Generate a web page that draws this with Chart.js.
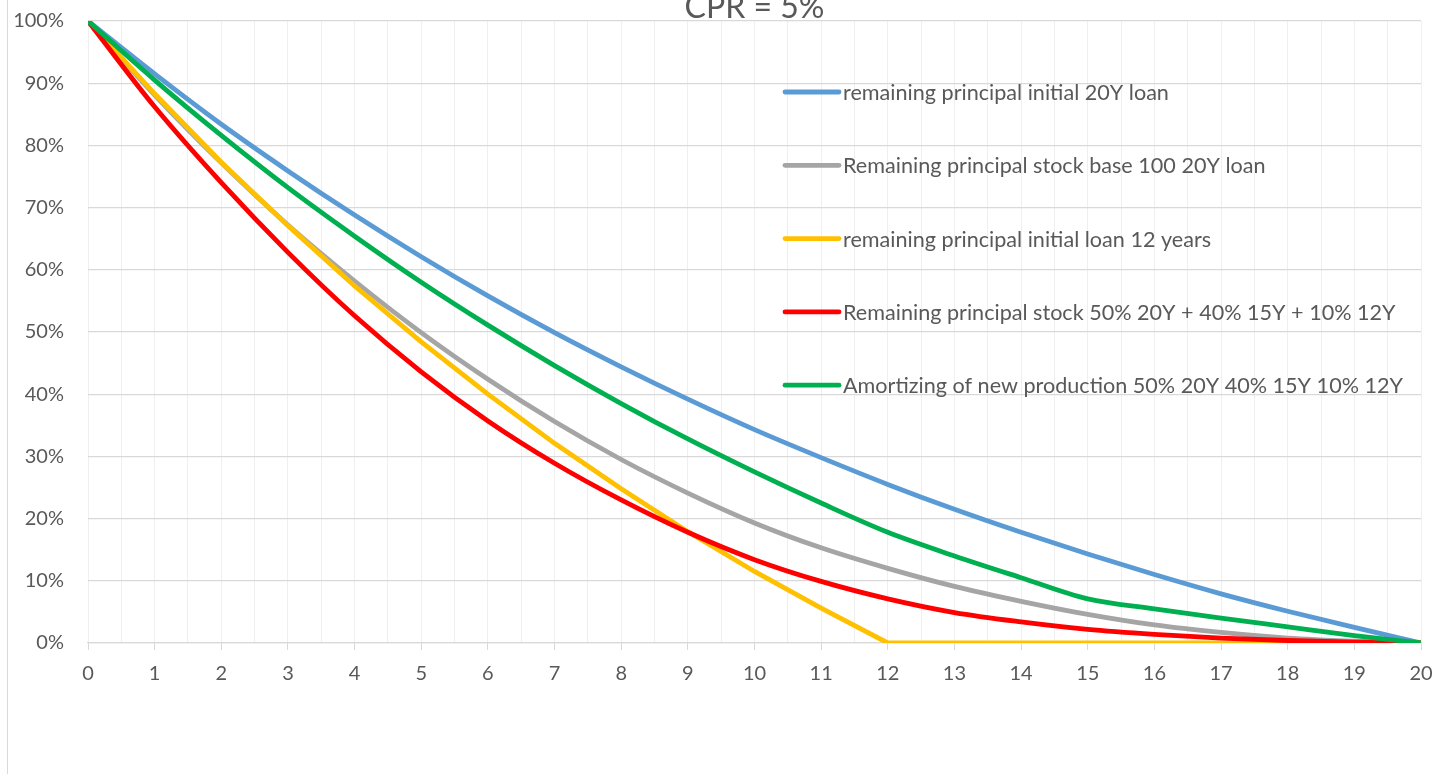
<!DOCTYPE html>
<html>
<head>
<meta charset="utf-8">
<title>CPR = 5%</title>
<script src="https://cdn.jsdelivr.net/npm/chart.js@4.4.0/dist/chart.umd.min.js"></script>
<style>
    html, body { margin: 0; padding: 0; background: #ffffff; }
    #frame {
        position: relative;
        width: 1445px;
        height: 774px;
        overflow: hidden;
    }
    /* chart border, only the left edge is visible in the crop */
    #frame .edge {
        position: absolute;
        left: 7px;
        top: 0;
        bottom: 0;
        border-left: 1.5px solid #d9d9d9;
    }
    #chart {
        position: absolute;
        left: 0;
        top: -15px;
    }
</style>
</head>
<body>
<div id="frame">
    <div class="edge"></div>
    <canvas id="chart" width="1445" height="789"></canvas>
</div>
<script>
// Years since origination
const years = [0, 1, 2, 3, 4, 5, 6, 7, 8, 9, 10, 11, 12, 13, 14, 15, 16, 17, 18, 19, 20];

// Remaining principal (%)
const initial20Y = [100, 91.5, 83.4, 75.9, 68.8, 62.1, 55.8, 49.9, 44.4, 39.2, 34.3, 29.8, 25.5, 21.5, 17.8, 14.3, 11.0, 7.9, 5.1, 2.5, 0];
const stockBase100 = [100, 88.1, 77.2, 67.2, 58.2, 49.9, 42.4, 35.6, 29.5, 24.1, 19.3, 15.3, 12.0, 9.1, 6.7, 4.6, 2.9, 1.7, 0.8, 0.3, 0];
const initial12Y = [100, 88.3, 77.3, 67.1, 57.4, 48.4, 40.0, 32.1, 24.8, 17.9, 11.5, 5.6, 0, 0, 0, 0, 0, 0, 0, 0, 0];
const stockMix = [100, 86.2, 74.0, 62.8, 52.6, 43.6, 35.7, 28.9, 23.0, 17.8, 13.4, 9.9, 7.1, 4.9, 3.4, 2.2, 1.4, 0.8, 0.4, 0.15, 0];
const newProduction = [100, 90.5, 81.6, 73.2, 65.4, 58.0, 51.1, 44.6, 38.5, 32.8, 27.5, 22.5, 17.8, 14.0, 10.5, 7.1, 5.5, 4.0, 2.6, 1.2, 0];

const seriesLabels = [
    'remaining principal initial 20Y loan',
    'Remaining principal stock base 100 20Y loan',
    'remaining principal initial loan 12 years',
    'Remaining principal stock 50% 20Y + 40% 15Y + 10% 12Y',
    'Amortizing of new production 50% 20Y 40% 15Y 10% 12Y'
];
const seriesValues = [initial20Y, stockBase100, initial12Y, stockMix, newProduction];
const seriesColors = ['#5b9bd5', '#a5a5a5', '#ffc000', '#ff0000', '#00b050'];
// the 12 years loan stops dead at year 12, keep its corner sharp
const seriesSmooth = [true, true, false, true, true];

const textColor = '#595959';
const fontFamily = 'Lato, "Open Sans", sans-serif';

/**
 * Legend drawn inside the plot area, on the right.
 */
const innerLegend = {
    id: 'innerLegend',
    afterDatasetsDraw(chart) {
        const ctx = chart.ctx;
        const area = chart.chartArea;
        const x0 = area.left + 697;
        const lineLength = 54;
        ctx.save();
        ctx.font = '21.6px ' + fontFamily;
        ctx.textBaseline = 'middle';
        ctx.textAlign = 'left';
        chart.data.datasets.forEach((dataset, i) => {
            const y = area.top + 71 + i * 73.3;
            ctx.strokeStyle = dataset.borderColor;
            ctx.lineWidth = 4.8;
            ctx.lineCap = 'round';
            ctx.beginPath();
            ctx.moveTo(x0, y);
            ctx.lineTo(x0 + lineLength, y);
            ctx.stroke();
            ctx.fillStyle = textColor;
            ctx.fillText(dataset.label, x0 + lineLength + 4, y + 1);
        });
        ctx.restore();
    }
};

function buildChart() {
    const datasets = seriesValues.map((values, i) => ({
        label: seriesLabels[i],
        data: years.map((year, j) => ({ x: year, y: values[j] })),
        borderColor: seriesColors[i],
        backgroundColor: seriesColors[i],
        borderWidth: 4.8,
        pointRadius: 0,
        cubicInterpolationMode: seriesSmooth[i] ? 'monotone' : 'default',
        tension: 0,
        // later series are drawn on top, as in the original
        order: seriesValues.length - i
    }));

    new Chart(document.getElementById('chart'), {
        type: 'line',
        data: { datasets: datasets },
        options: {
            responsive: false,
            animation: false,
            devicePixelRatio: 1,
            layout: { padding: { top: 0, right: 24, bottom: 0, left: 0 } },
            plugins: {
                legend: { display: false },
                tooltip: { enabled: false },
                title: {
                    display: true,
                    fullSize: false,
                    text: 'CPR = 5%',
                    color: textColor,
                    font: { family: fontFamily, size: 32, weight: 'normal', lineHeight: 1 },
                    padding: { top: 3, bottom: -3 }
                }
            },
            scales: {
                x: {
                    type: 'linear',
                    min: 0,
                    max: 20,
                    afterFit: scale => { scale.height = 131; },
                    ticks: {
                        stepSize: 0.5,
                        autoSkip: false,
                        maxRotation: 0,
                        padding: 12,
                        color: textColor,
                        font: { family: fontFamily, size: 20 },
                        callback: value => Number.isInteger(value) ? String(value) : ''
                    },
                    grid: {
                        color: '#efefef',
                        lineWidth: 1,
                        tickLength: 7,
                        tickColor: ctx => Number.isInteger(ctx.tick.value) ? '#d9d9d9' : 'rgba(0,0,0,0)'
                    },
                    border: { color: '#d9d9d9', width: 1.3 }
                },
                y: {
                    min: 0,
                    max: 100,
                    afterFit: scale => { scale.width = 88; },
                    ticks: {
                        stepSize: 10,
                        padding: 24,
                        color: textColor,
                        font: { family: fontFamily, size: 20 },
                        callback: value => value + '%'
                    },
                    grid: { color: '#d9d9d9', lineWidth: 1.3, drawTicks: false },
                    border: { display: false }
                }
            }
        },
        plugins: [innerLegend]
    });
}

document.fonts.load('20px Lato').then(buildChart, buildChart);
</script>
</body>
</html>
